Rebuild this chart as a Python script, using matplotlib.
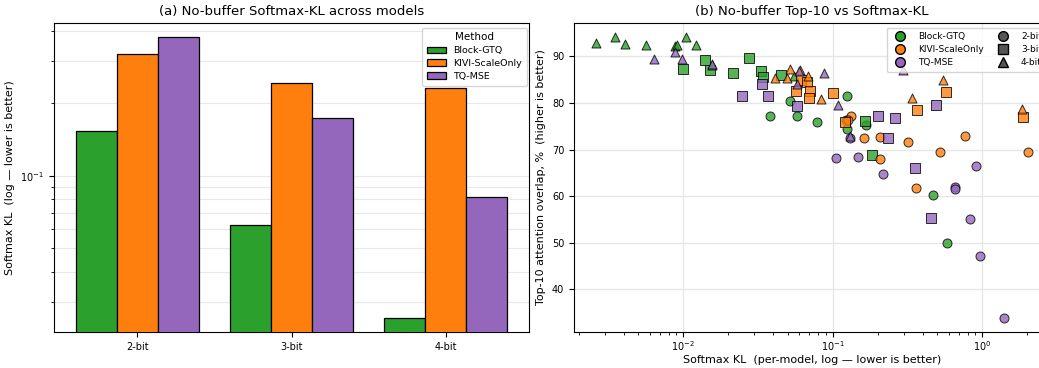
import matplotlib
matplotlib.use("Agg")
import matplotlib.pyplot as plt
from matplotlib.lines import Line2D
import numpy as np

# ---------------- data ----------------
methods = ["Block-GTQ", "KIVI-ScaleOnly", "TQ-MSE"]
bits = ["2-bit", "3-bit", "4-bit"]
colors = {"Block-GTQ": "#2ca02c", "KIVI-ScaleOnly": "#ff7f0e", "TQ-MSE": "#9467bd"}
bit_markers = {"2-bit": "o", "3-bit": "s", "4-bit": "^"}

# panel (a): aggregated softmax KL per method, per bit width
kl_block_gtq = [0.154, 0.0626, 0.0258]
kl_kivi = [0.321, 0.244, 0.231]
kl_tq_mse = [0.376, 0.174, 0.0818]

# panel (b): per-model (KL, top-10 overlap %)
gtq_2_kl = [0.0381, 0.0575, 0.0783, 0.0521, 0.125, 0.123, 0.125, 0.1677, 0.467, 0.587]
gtq_2_top = [77.1, 77.1, 75.8, 80.5, 81.4, 76.3, 74.4, 75.2, 60.2, 50.0]
gtq_3_kl = [0.01398, 0.01521, 0.00999, 0.02163, 0.02754, 0.0332, 0.0340, 0.0450, 0.165, 0.184]
gtq_3_top = [89.1, 87.1, 87.3, 86.4, 89.7, 86.8, 85.5, 86.0, 76.2, 68.9]
gtq_4_kl = [0.0026, 0.00348, 0.00411, 0.00565, 0.00889, 0.00912, 0.01047, 0.01222, 0.0155, 0.0553]
gtq_4_top = [92.8, 94.1, 92.7, 92.4, 92.1, 92.5, 94.1, 92.4, 88.1, 85.8]

kivi_2_kl = [0.1324, 0.1276, 0.163, 0.207, 0.319, 0.208, 0.525, 0.773, 2.04, 0.359]
kivi_2_top = [77.2, 76.4, 72.4, 72.6, 71.6, 68.0, 69.4, 73.0, 69.5, 61.8]
kivi_3_kl = [0.0565, 0.0615, 0.0675, 0.0706, 0.0696, 0.101, 0.1216, 0.368, 0.571, 1.88]
kivi_3_top = [82.5, 85.0, 84.5, 82.5, 81.1, 82.1, 75.8, 78.5, 82.4, 77.0]
kivi_4_kl = [0.0410, 0.0495, 0.0518, 0.069, 0.0843, 0.342, 0.548, 1.85, 0.0605]
kivi_4_top = [85.4, 85.4, 87.2, 85.7, 80.8, 81.0, 85.0, 78.7, 87.0]

tq_2_kl = [0.131, 0.1047, 0.1476, 0.217, 0.906, 0.655, 0.655, 0.835, 0.974, 1.41]
tq_2_top = [72.5, 68.2, 68.4, 64.8, 66.5, 62.0, 61.5, 55.2, 47.1, 33.9]
tq_3_kl = [0.0336, 0.0247, 0.0372, 0.0578, 0.2003, 0.2625, 0.2344, 0.3544, 0.452, 0.494]
tq_3_top = [84.1, 81.5, 81.5, 79.4, 77.2, 76.8, 72.5, 66.1, 55.4, 79.5]
tq_4_kl = [0.00636, 0.0088, 0.00985, 0.0155, 0.0598, 0.0581, 0.0874, 0.109, 0.298, 0.130]
tq_4_top = [89.5, 91.0, 89.4, 88.4, 86.8, 84.0, 86.4, 79.6, 87.1, 73.0]

# ---------------- figure ----------------
W, H = 1039, 368
fig = plt.figure(figsize=(W / 100, H / 100), dpi=100)

def frac(x0, y0, x1, y1):
    return [x0 / W, 1 - y1 / H, (x1 - x0) / W, (y1 - y0) / H]

axA = fig.add_axes(frac(54, 23, 529, 332))
axB = fig.add_axes(frac(574, 23, 1050, 332))

# ---- panel (a)
x = np.arange(len(bits))
width = 0.8 / 3
series = [kl_block_gtq, kl_kivi, kl_tq_mse]
for i, (m, vals) in enumerate(zip(methods, series)):
    axA.bar(x + (i - 1) * width, vals, width, color=colors[m], edgecolor="black",
            linewidth=0.9, label=m, zorder=3)
axA.set_yscale("log")
axA.set_ylim(0.0225, 0.431)
axA.set_xticks(x)
axA.set_xticklabels(bits, fontsize=7)
axA.tick_params(axis="y", labelsize=7)
axA.set_ylabel("Softmax KL  (log — lower is better)", fontsize=8)
axA.set_title("(a) No-buffer Softmax-KL across models", fontsize=9.5)
axA.grid(True, axis="y", which="both", color="#e8e8e8", linewidth=0.8, zorder=0)
axA.set_axisbelow(True)
axA.legend(title="Method", fontsize=6.8, title_fontsize=7.5, loc="upper right",
           bbox_to_anchor=(1.005, 1.0),
           handlelength=2.0, borderpad=0.5, labelspacing=0.4)

# ---- panel (b)
groups = [
    ("Block-GTQ", "2-bit", gtq_2_kl, gtq_2_top),
    ("Block-GTQ", "3-bit", gtq_3_kl, gtq_3_top),
    ("Block-GTQ", "4-bit", gtq_4_kl, gtq_4_top),
    ("KIVI-ScaleOnly", "2-bit", kivi_2_kl, kivi_2_top),
    ("KIVI-ScaleOnly", "3-bit", kivi_3_kl, kivi_3_top),
    ("KIVI-ScaleOnly", "4-bit", kivi_4_kl, kivi_4_top),
    ("TQ-MSE", "2-bit", tq_2_kl, tq_2_top),
    ("TQ-MSE", "3-bit", tq_3_kl, tq_3_top),
    ("TQ-MSE", "4-bit", tq_4_kl, tq_4_top),
]
for m, b, kl, top in groups:
    axB.scatter(kl, top, s=42, marker=bit_markers[b], color=colors[m],
                edgecolor="black", linewidth=0.7, alpha=0.8, zorder=3)
axB.set_xscale("log")
axB.set_xlabel("Softmax KL  (per-model, log — lower is better)", fontsize=8, labelpad=1)
axB.set_ylabel("Top-10 attention overlap, %  (higher is better)", fontsize=8)
axB.set_title("(b) No-buffer Top-10 vs Softmax-KL", fontsize=9.5)
axB.tick_params(labelsize=7)
axB.tick_params(axis="x", which="major", pad=2)
axB.grid(True, which="major", color="#e6e6e6", linewidth=0.9, zorder=0)
axB.set_axisbelow(True)

handles = []
labels = []
for m in methods:
    handles.append(Line2D([], [], marker="o", linestyle="", markerfacecolor=colors[m],
                          markeredgecolor="black", markersize=7))
    labels.append(m)
for b in bits:
    handles.append(Line2D([], [], marker=bit_markers[b], linestyle="", markerfacecolor="#555555",
                          markeredgecolor="black", markersize=7))
    labels.append(b)
axB.legend(handles, labels, ncol=2, fontsize=6.5, loc="upper right",
           bbox_to_anchor=(1.002, 1.0),
           borderpad=0.5, labelspacing=0.45, columnspacing=1.1, handletextpad=1.0)

fig.savefig("out.png", dpi=100)
